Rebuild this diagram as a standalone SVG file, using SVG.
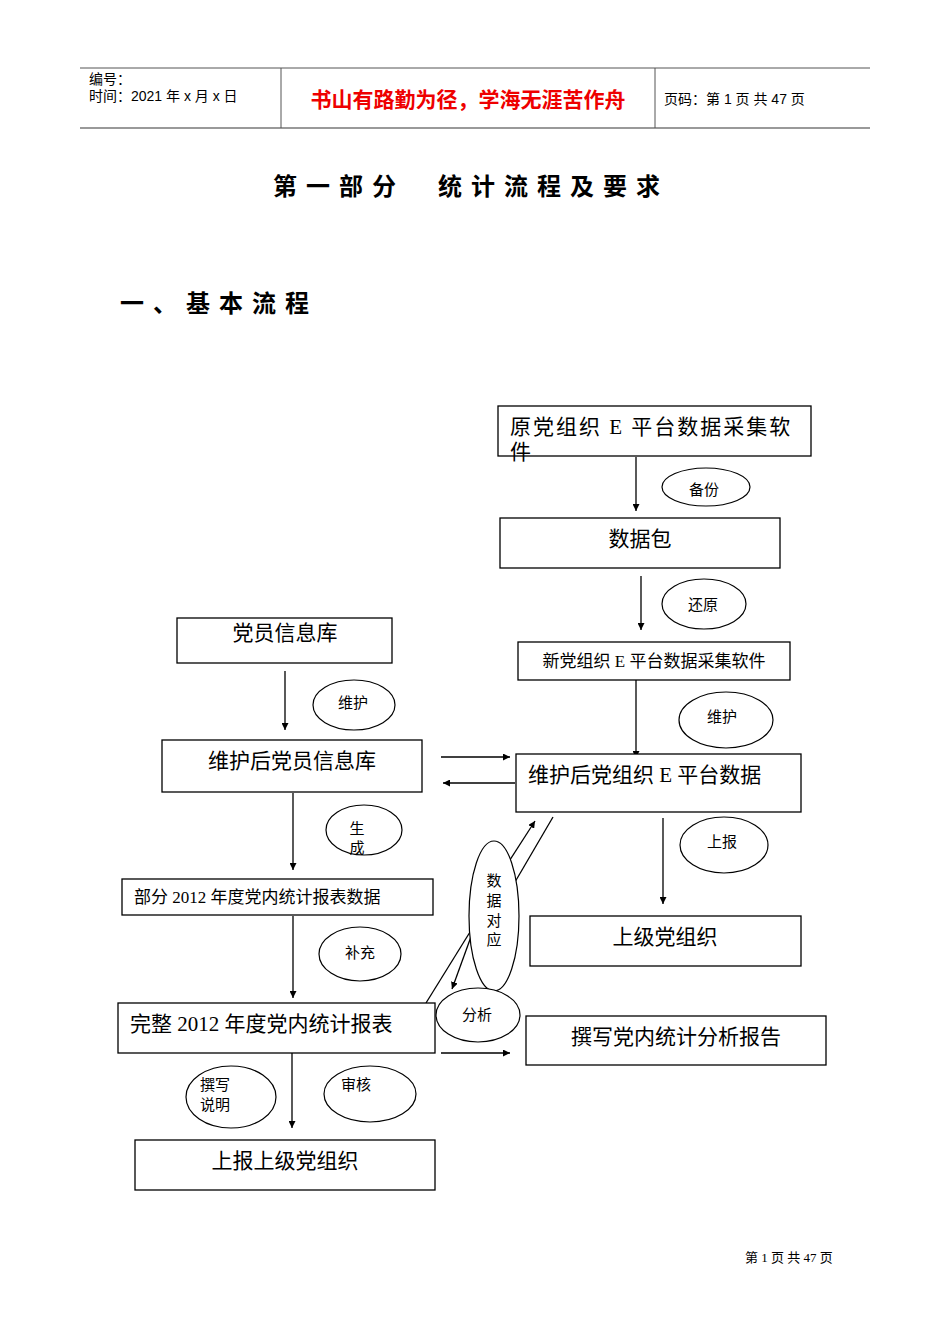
<svg xmlns="http://www.w3.org/2000/svg" width="950" height="1344" viewBox="0 0 950 1344">
<style>
.b{fill:#fff;stroke:#000;stroke-width:1.3}
.e{fill:#fff;stroke:#000;stroke-width:1.2}
.l{stroke:#000;stroke-width:1.3;fill:none}
.t{font-family:"Liberation Serif","Noto Sans CJK SC",serif;fill:#000}
.s{font-family:"Liberation Sans","Noto Sans CJK SC",sans-serif;fill:#000}
</style>
<defs><marker id="a" viewBox="0 0 10 10" refX="10" refY="5" markerWidth="7" markerHeight="7" orient="auto" markerUnits="userSpaceOnUse"><path d="M0,0L10,5L0,10z"/></marker></defs>
<rect width="950" height="1344" fill="#fff"/>
<g id="header">
<line x1="80" y1="68" x2="870" y2="68" stroke="#555" stroke-width="1"/>
<line x1="80" y1="128" x2="870" y2="128" stroke="#999" stroke-width="2"/>
<line x1="281" y1="68" x2="281" y2="128" stroke="#555"/>
<line x1="655" y1="68" x2="655" y2="128" stroke="#555"/>
<text class="s" x="89" y="84" font-size="14">编号：</text>
<text class="s" x="89" y="101" font-size="14">时间：2021 年 x 月 x 日</text>
<text class="s" x="468" y="107" font-size="21" font-weight="bold" style="fill:#e00" text-anchor="middle">书山有路勤为径，学海无涯苦作舟</text>
<text class="s" x="664" y="104" font-size="14">页码：第 1 页 共 47 页</text>
</g>
<text class="t" x="471" y="195" font-size="24" font-weight="bold" text-anchor="middle" letter-spacing="9">第一部分　统计流程及要求</text>
<text class="t" x="120" y="312" font-size="24" font-weight="bold" letter-spacing="9">一、基本流程</text>
<g id="connectors">
<line class="l" x1="636" y1="457" x2="636" y2="511" marker-end="url(#a)"/>
<line class="l" x1="641" y1="576" x2="641" y2="630" marker-end="url(#a)"/>
<line class="l" x1="636" y1="680" x2="636" y2="758" marker-end="url(#a)"/>
<line class="l" x1="285" y1="671" x2="285" y2="730" marker-end="url(#a)"/>
<line class="l" x1="441" y1="757" x2="510" y2="757" marker-end="url(#a)"/>
<line class="l" x1="515" y1="783" x2="443" y2="783" marker-end="url(#a)"/>
<line class="l" x1="293" y1="793" x2="293" y2="870" marker-end="url(#a)"/>
<line class="l" x1="663" y1="818" x2="663" y2="904" marker-end="url(#a)"/>
<line class="l" x1="293" y1="916" x2="293" y2="998" marker-end="url(#a)"/>
<line class="l" x1="292" y1="1053" x2="292" y2="1128" marker-end="url(#a)"/>
<line class="l" x1="441" y1="1053" x2="510" y2="1053" marker-end="url(#a)"/>
<line class="l" x1="508" y1="863" x2="535" y2="821" marker-end="url(#a)"/>
<line class="l" x1="553" y1="817" x2="515" y2="882"/>
<line class="l" x1="472" y1="934" x2="452" y2="989" marker-end="url(#a)"/>
<line class="l" x1="426" y1="1003" x2="470" y2="932"/>
</g>
<g id="n1"><rect class="b" x="498" y="406" width="313" height="50"/><text class="t" x="510" y="434" font-size="21" letter-spacing="2">原党组织 E 平台数据采集软</text><text class="t" x="510" y="459" font-size="21">件</text></g>
<g id="n2"><rect class="b" x="500" y="518" width="280" height="50"/><text class="t" x="640" y="546" font-size="21" text-anchor="middle">数据包</text></g>
<g id="n3"><rect class="b" x="518" y="642" width="272" height="38"/><text class="t" x="654" y="667" font-size="17" text-anchor="middle">新党组织 E 平台数据采集软件</text></g>
<g id="n4"><rect class="b" x="177" y="618" width="215" height="45"/><text class="t" x="285" y="640" font-size="21" text-anchor="middle">党员信息库</text></g>
<g id="n5"><rect class="b" x="162" y="740" width="260" height="52"/><text class="t" x="292" y="768" font-size="21" text-anchor="middle">维护后党员信息库</text></g>
<g id="n6"><rect class="b" x="516" y="754" width="285" height="58"/><text class="t" x="528" y="782" font-size="21">维护后党组织 E 平台数据</text></g>
<g id="n7"><rect class="b" x="122" y="879" width="311" height="36"/><text class="t" x="134" y="903" font-size="17">部分 2012 年度党内统计报表数据</text></g>
<g id="n8"><rect class="b" x="530" y="916" width="271" height="50"/><text class="t" x="665" y="944" font-size="21" text-anchor="middle">上级党组织</text></g>
<g id="n9"><rect class="b" x="118" y="1003" width="317" height="50"/><text class="t" x="130" y="1031" font-size="21">完整 2012 年度党内统计报表</text></g>
<g id="n10"><rect class="b" x="526" y="1016" width="300" height="49"/><text class="t" x="676" y="1044" font-size="21" text-anchor="middle">撰写党内统计分析报告</text></g>
<g id="n11"><rect class="b" x="135" y="1140" width="300" height="50"/><text class="t" x="285" y="1168" font-size="21" text-anchor="middle">上报上级党组织</text></g>
<g id="e1"><ellipse class="e" cx="706" cy="487" rx="44" ry="19"/><text class="t" x="704" y="495" font-size="15" text-anchor="middle">备份</text></g>
<g id="e2"><ellipse class="e" cx="704" cy="604" rx="42" ry="25"/><text class="t" x="703" y="610" font-size="15" text-anchor="middle">还原</text></g>
<g id="e3"><ellipse class="e" cx="354" cy="705" rx="41" ry="25"/><text class="t" x="353" y="708" font-size="15" text-anchor="middle">维护</text></g>
<g id="e4"><ellipse class="e" cx="726" cy="720" rx="47" ry="28"/><text class="t" x="722" y="722" font-size="15" text-anchor="middle">维护</text></g>
<g id="e5"><ellipse class="e" cx="364" cy="830" rx="38" ry="25"/><text class="t" x="357" y="834" font-size="15" text-anchor="middle">生</text><text class="t" x="357" y="853" font-size="15" text-anchor="middle">成</text></g>
<g id="e6"><ellipse class="e" cx="724" cy="845" rx="44" ry="28"/><text class="t" x="722" y="847" font-size="15" text-anchor="middle">上报</text></g>
<g id="e7"><ellipse class="e" cx="360" cy="954" rx="41" ry="27"/><text class="t" x="360" y="958" font-size="15" text-anchor="middle">补充</text></g>
<g id="e8"><ellipse class="e" cx="494" cy="916" rx="25" ry="75"/><text class="t" x="494" y="886" font-size="15" text-anchor="middle">数</text><text class="t" x="494" y="906" font-size="15" text-anchor="middle">据</text><text class="t" x="494" y="926" font-size="15" text-anchor="middle">对</text><text class="t" x="494" y="945" font-size="15" text-anchor="middle">应</text></g>
<g id="e9"><ellipse class="e" cx="478" cy="1015" rx="42" ry="27"/><text class="t" x="477" y="1020" font-size="15" text-anchor="middle">分析</text></g>
<g id="e10"><ellipse class="e" cx="231" cy="1097" rx="45" ry="31"/><text class="t" x="200" y="1090" font-size="15">撰写</text><text class="t" x="200" y="1110" font-size="15">说明</text></g>
<g id="e11"><ellipse class="e" cx="370" cy="1094" rx="46" ry="28"/><text class="t" x="356" y="1090" font-size="15" text-anchor="middle">审核</text></g>
<text class="t" x="789" y="1262" font-size="13" text-anchor="middle">第 1 页 共 47 页</text>
</svg>
